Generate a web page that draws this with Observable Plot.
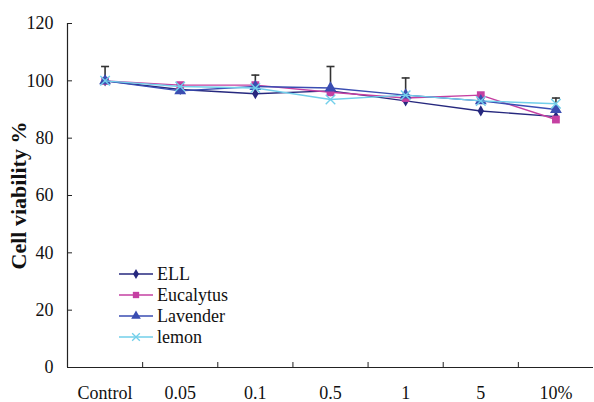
<!DOCTYPE html>
<html><head><meta charset="utf-8">
<script src="https://cdn.jsdelivr.net/npm/d3@7"></script>
<script src="https://cdn.jsdelivr.net/npm/@observablehq/plot@0.6"></script>
<style>
body{margin:0;background:#fff}
svg{overflow:visible}
#chart svg, #chart svg text, #chart svg tspan, #chart svg g { font-family: "Liberation Serif", "Tinos", "Times New Roman", serif !important; }
</style>
</head><body><div id="chart"></div>
<script>
const categories = ["Control","0.05","0.1","0.5","1","5","10%"];
const ELL        = [100, 97,   95.5, 96.5, 93, 89.5, 87.5];
const Eucalyptus = [100, 98.5, 98.5, 96,   94, 95,   86.5];
const Lavender   = [100, 96.5, 98,   97.5, 95, 93,   90];
const lemon      = [100, 98,   97.5, 93.5, 95, 93,   92];
const errorUp    = [5,   0,    4,    7.5,  6,  0,    4]; // upper error bars (Lavender)
const yTicks = [0, 20, 40, 60, 80, 100, 120];
const seriesNames = ["ELL", "Eucalytus", "Lavender", "lemon"];
const seriesValues = [ELL, Eucalyptus, Lavender, lemon];
const colors = ["#26287e", "#c540a2", "#3a4db2", "#72cfea"];
const symbols = ["diamond", "square", "triangle", "times"];
const yLabel = "Cell viability %";

const rows = [];
seriesNames.forEach((s, si) => categories.forEach((c, i) =>
  rows.push({series: s, cat: c, pos: i + 0.5, value: seriesValues[si][i]})));
const errRows = categories.map((c, i) => ({cat: c, pos: i + 0.5, lo: Lavender[i], hi: Lavender[i] + errorUp[i]}))
  .filter(d => d.hi > d.lo);
const boundaries = d3.range(1, categories.length);
const capSymbol = {draw(ctx) { ctx.moveTo(-4, 0); ctx.lineTo(4, 0); }};

const marks = [
  Plot.ruleX([0], {y1: 0, y2: 120, stroke: "#222", strokeWidth: 1.2}),
  Plot.ruleY([0], {stroke: "#222", strokeWidth: 1.2}),
  Plot.axisY(yTicks, {tickSize: 0, tickPadding: 14, fontSize: 18, fill: "#111", label: null}),
  Plot.axisY(yTicks, {tickSize: -5, text: null, stroke: "#222", label: null}),
  Plot.axisX(categories.map((c, i) => i + 0.5), {tickSize: 0, tickPadding: 19, fontSize: 18, fill: "#111", tickFormat: d => categories[Math.round(d - 0.5)], label: null}),
  Plot.axisX(boundaries, {tickSize: -5, text: null, stroke: "#222", label: null}),
  Plot.ruleX(errRows, {x: "pos", y1: "lo", y2: "hi", stroke: "#333", strokeWidth: 1.6}),
  Plot.dot(errRows, {x: "pos", y: "hi", symbol: capSymbol, stroke: "#333", strokeWidth: 1.6, r: 4}),
];
seriesNames.forEach((s, si) => {
  const data = rows.filter(d => d.series === s);
  marks.push(Plot.line(data, {x: "pos", y: "value", stroke: colors[si], strokeWidth: 1.4}));
  const isStroke = symbols[si] === "times";
  marks.push(Plot.dot(data, {x: "pos", y: "value", symbol: symbols[si],
    r: si === 0 ? 3.4 : 4.4,
    fill: isStroke ? "none" : colors[si], stroke: isStroke ? colors[si] : "none", strokeWidth: 1.4}));
});
marks.push(Plot.text([yLabel], {frameAnchor: "left", textAnchor: "middle", rotate: -90, dx: -49, fontSize: 22, fontWeight: "bold", fill: "#111"}));

const plot = Plot.plot({
  width: 594, height: 402,
  marginLeft: 67, marginRight: 1, marginTop: 23, marginBottom: 35,
  style: {background: "#fff"},
  x: {type: "linear", domain: [0, categories.length], axis: null},
  y: {domain: [0, 120], axis: null},
  marks
});

// legend
const svg = d3.select(plot);
const lg = svg.append("g").attr("transform", "translate(119,274)");
seriesNames.forEach((s, si) => {
  const g = lg.append("g").attr("transform", `translate(0,${si * 21})`);
  g.append("line").attr("x1", 0).attr("x2", 34).attr("stroke", colors[si]).attr("stroke-width", 1.4);
  const sym = {diamond: d3.symbolDiamond, square: d3.symbolSquare, triangle: d3.symbolTriangle, times: d3.symbolTimes}[symbols[si]];
  const p = g.append("path").attr("transform", "translate(17,0)")
    .attr("d", d3.symbol(sym, si === 0 ? 30 : 40)());
  if (symbols[si] === "times") p.attr("fill", "none").attr("stroke", colors[si]).attr("stroke-width", 1.3);
  else p.attr("fill", colors[si]);
  g.append("text").attr("x", 38).attr("y", 0).attr("dy", "0.35em").attr("text-anchor", "start")
    .attr("font-size", 18).attr("fill", "#111").text(s);
});
document.getElementById("chart").appendChild(plot);
</script>
</body></html>
